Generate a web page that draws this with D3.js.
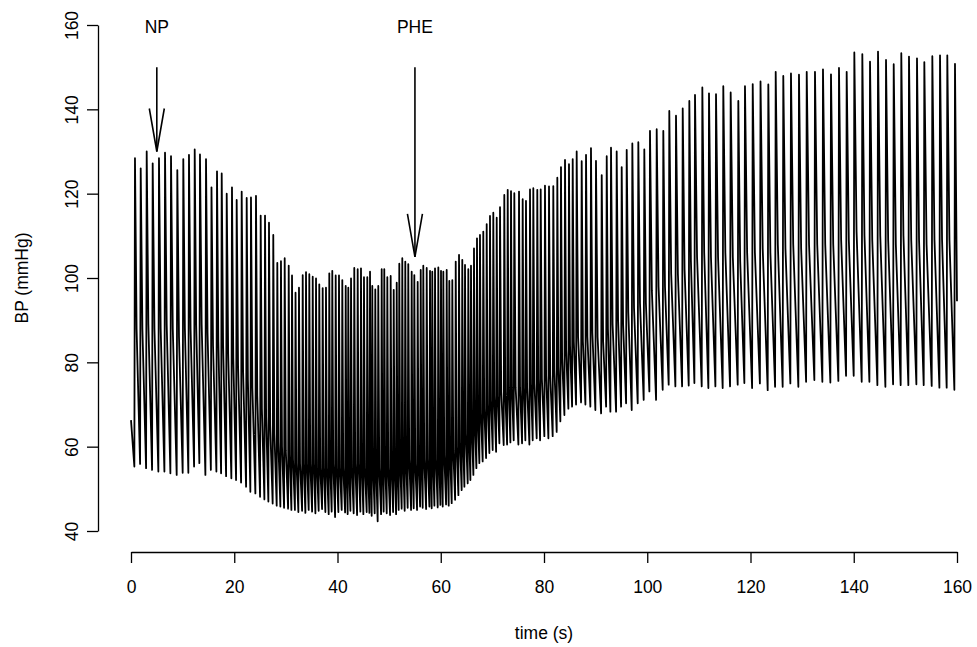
<!DOCTYPE html>
<html lang="en">
<head>
<meta charset="UTF-8">
<title>BP trace</title>
<script src="https://d3js.org/d3.v7.min.js"></script>
<style>
  body { margin: 0; background: #fff; }
  svg text { font-family: "Liberation Sans", Arial, Helvetica, sans-serif; fill: #000; }
</style>
</head>
<body>
<svg width="977" height="647"></svg>
<script>
// beat by beat values
// time of each systolic peak (s)
var peakTime = [0.77, 1.88, 3.04, 4.20, 5.42, 6.59, 7.75, 8.97, 10.13, 11.23, 12.34, 13.36, 14.53, 15.59, 16.66, 17.57, 18.54, 19.56, 20.47, 21.44,
  22.41, 23.24, 24.21, 25.12, 25.96, 26.73, 27.56, 28.34, 29.05, 29.77, 30.55, 31.19, 31.87, 32.54, 33.26, 33.90, 34.54, 35.20, 35.84, 36.47,
  37.13, 37.77, 38.41, 38.99, 39.65, 40.29, 40.93, 41.59, 42.09, 42.62, 43.25, 43.91, 44.55, 45.13, 45.77, 46.30, 46.74, 47.32, 47.90, 48.56,
  49.06, 49.65, 50.30, 50.89, 51.47, 51.97, 52.55, 53.13, 53.71, 54.37, 54.88, 55.53, 56.12, 56.62, 57.28, 57.92, 58.36, 58.89, 59.53, 60.05,
  60.50, 61.15, 61.66, 62.24, 62.90, 63.54, 64.17, 64.70, 65.34, 65.86, 66.44, 67.02, 67.60, 68.24, 68.90, 69.54, 70.18, 70.84, 71.48, 72.31,
  72.97, 73.61, 74.25, 75.16, 75.87, 76.51, 77.29, 77.93, 78.70, 79.36, 80.19, 80.97, 81.80, 82.58, 83.29, 84.07, 84.84, 85.56, 86.33, 87.30,
  88.14, 89.10, 90.07, 91.18, 92.15, 92.98, 94.08, 95.05, 96.02, 97.11, 98.27, 99.43, 100.53, 101.83, 103.11, 104.27, 105.57, 106.87, 108.15, 109.25,
  110.67, 111.96, 113.32, 114.73, 116.16, 117.64, 118.93, 120.43, 121.94, 123.45, 124.88, 126.35, 127.84, 129.39, 130.89, 132.49, 134.04, 135.59, 137.14, 138.63,
  140.11, 141.66, 143.15, 144.70, 146.25, 147.74, 149.21, 150.70, 152.25, 153.67, 155.22, 156.71, 158.12, 159.61];

// systolic peak of each beat (mmHg)
var systolic = [128.4, 126.0, 130.0, 127.2, 128.4, 129.7, 128.9, 125.6, 128.2, 129.2, 130.5, 129.3, 128.2, 121.5, 125.3, 124.8, 120.0, 121.5, 118.5, 120.5,
  119.0, 119.1, 119.5, 114.8, 114.8, 113.1, 110.2, 103.6, 104.0, 104.7, 102.9, 100.6, 96.5, 97.7, 100.7, 101.4, 100.9, 100.3, 99.9, 98.5,
  97.6, 97.7, 101.1, 101.7, 100.6, 100.6, 99.5, 98.1, 97.7, 99.9, 102.4, 102.1, 102.3, 100.2, 100.2, 101.5, 98.1, 97.3, 98.1, 102.1,
  102.1, 100.2, 100.5, 97.2, 98.9, 103.4, 104.7, 103.9, 103.3, 101.5, 100.7, 99.1, 101.9, 102.9, 102.4, 101.7, 101.5, 102.3, 102.5, 101.7,
  101.5, 101.9, 99.3, 99.5, 103.9, 105.5, 104.3, 103.1, 102.1, 102.9, 107.0, 109.4, 110.2, 111.0, 112.8, 114.7, 115.5, 114.3, 116.8, 119.7,
  120.9, 120.6, 120.1, 120.5, 118.7, 118.3, 121.0, 121.3, 120.9, 121.0, 121.9, 121.7, 121.8, 123.8, 126.3, 128.0, 127.0, 128.2, 130.0, 127.7,
  129.2, 130.8, 127.8, 124.4, 128.9, 130.9, 130.0, 126.3, 130.4, 131.9, 132.2, 130.5, 134.9, 135.3, 134.9, 139.6, 138.5, 140.2, 142.0, 143.4,
  145.2, 143.8, 143.6, 145.5, 144.0, 142.0, 145.5, 146.0, 146.6, 145.9, 148.9, 147.9, 148.5, 148.2, 148.9, 148.9, 149.5, 148.3, 149.8, 148.9,
  153.5, 153.1, 151.3, 153.7, 151.7, 150.7, 153.3, 152.5, 152.1, 151.2, 152.6, 152.8, 152.8, 150.8];

// diastolic minimum just before each upstroke (mmHg)
var diastolic = [55.3, 55.9, 54.9, 54.5, 54.1, 54.1, 53.7, 53.3, 53.8, 53.8, 55.3, 56.1, 53.3, 54.5, 54.1, 53.7, 53.0, 52.5, 52.1, 51.5,
  50.5, 49.3, 48.9, 48.1, 47.5, 47.0, 46.5, 46.0, 45.8, 45.5, 45.3, 45.0, 45.0, 44.5, 44.8, 44.3, 45.0, 44.6, 44.2, 44.8,
  45.2, 44.5, 44.0, 44.6, 43.3, 44.5, 45.0, 44.4, 44.0, 44.8, 44.2, 43.8, 44.6, 44.0, 44.5, 44.3, 43.6, 44.2, 42.3, 44.0,
  44.6, 44.2, 43.8, 44.5, 44.0, 45.0, 45.3, 44.8, 45.5, 45.0, 45.4, 45.0, 45.8, 45.5, 45.2, 45.8, 45.4, 46.0, 45.6, 46.2,
  45.8, 46.3, 46.0, 46.6, 47.4, 48.5, 49.7, 50.5, 51.3, 52.1, 53.3, 54.9, 56.1, 56.5, 57.3, 58.5, 59.2, 58.8, 60.8, 60.4,
  60.5, 61.0, 61.5, 60.5, 60.8, 61.5, 60.5, 61.5, 62.0, 61.5, 62.5, 62.0, 62.5, 63.5, 66.0, 67.5, 69.0, 69.5, 70.0, 70.5,
  70.0, 69.5, 68.7, 67.9, 69.5, 68.3, 68.3, 69.5, 70.3, 68.7, 70.3, 71.1, 73.1, 71.1, 73.5, 74.7, 74.3, 74.3, 74.5, 75.1,
  74.3, 73.9, 74.3, 73.9, 74.3, 74.7, 75.1, 73.9, 75.0, 73.4, 74.2, 74.2, 75.0, 74.2, 75.4, 75.8, 75.4, 75.2, 75.6, 76.8,
  76.8, 75.4, 75.4, 74.6, 74.2, 74.8, 74.6, 74.6, 74.8, 74.6, 74.4, 74.0, 74.0, 73.5];

// level of the dicrotic notch on the falling limb (mmHg)
var notch = [88, 88, 89, 88, 88, 89, 88, 86, 88, 88, 89, 89, 87, 84, 85, 84, 82, 81, 79, 78,
  76, 74, 72, 69, 67, 65, 63, 61, 60, 59, 58, 57, 56, 56, 56, 56, 56, 56, 55, 55,
  55, 55, 56, 56, 55, 55, 55, 55, 55, 55, 56, 56, 56, 55, 55, 56, 55, 55, 55, 56,
  56, 55, 55, 55, 55, 56, 57, 57, 57, 56, 56, 56, 57, 57, 57, 57, 57, 57, 58, 58,
  58, 58, 58, 59, 60, 61, 62, 63, 63, 64, 66, 67, 68, 69, 70, 71, 72, 72, 73, 73,
  74, 74, 74, 74, 74, 74, 75, 75, 76, 76, 77, 77, 78, 79, 81, 83, 84, 85, 86, 85,
  86, 87, 86, 85, 88, 89, 90, 89, 92, 93, 94, 94, 97, 98, 98, 101, 101, 102, 104, 105,
  106, 105, 105, 106, 105, 104, 106, 106, 107, 106, 108, 107, 108, 107, 108, 108, 108, 108, 109, 109,
  111, 110, 109, 110, 109, 108, 110, 109, 109, 108, 109, 109, 109, 108];

var startBP = 66.3;   // value at t = 0
var endBP = 94.5;     // value at t = 160

var xTicks = [0, 20, 40, 60, 80, 100, 120, 140, 160];
var yTicks = [40, 60, 80, 100, 120, 140, 160];

// drug markers
var markLabel = ["NP", "PHE"];
var markTime = [5, 55];
var markFrom = [150, 150];
var markTo = [130, 105];

var svg = d3.select("svg");
var x = d3.scaleLinear().domain([0, 160]).range([131, 957]);
var y = d3.scaleLinear().domain([40, 160]).range([531, 25]);

// build the trace: trough -> peak -> notch -> next trough
var rise = 0.12; // upstroke duration (s)
var pts = [[0, startBP]];
for (var i = 0; i < peakTime.length; i++) {
    pts.push([peakTime[i] - rise, diastolic[i]]);
    pts.push([peakTime[i], systolic[i]]);
    if (i < peakTime.length - 1) {
        pts.push([peakTime[i] + 0.28 * (peakTime[i + 1] - peakTime[i]), notch[i]]);
    }
}
pts.push([160, endBP]);

var line = d3.line()
    .x(function(d) { return x(d[0]); })
    .y(function(d) { return y(d[1]); });

svg.append("path")
    .datum(pts)
    .attr("d", line)
    .attr("fill", "none")
    .attr("stroke", "#000")
    .attr("stroke-width", 1.8)
    .attr("stroke-linejoin", "round");

// axes, R style
var xAxis = svg.append("g")
    .attr("transform", "translate(0,552)")
    .call(d3.axisBottom(x).tickValues(xTicks).tickSize(11).tickSizeOuter(0));
xAxis.selectAll("text").attr("y", 35).attr("dy", "0.35em").style("font-size", "17.5px");

var yAxis = svg.append("g")
    .attr("transform", "translate(98,0)")
    .call(d3.axisLeft(y).tickValues(yTicks).tickSize(11).tickSizeOuter(0));
yAxis.selectAll("text")
    .attr("transform", "rotate(-90)")
    .attr("x", 0).attr("y", -26).attr("dy", "0.35em")
    .attr("text-anchor", "middle")
    .style("font-size", "17.5px");

svg.selectAll(".domain, .tick line").attr("stroke", "#000").attr("stroke-width", 1.3);

svg.append("text")
    .attr("x", 544).attr("y", 633).attr("dy", "0.35em")
    .attr("text-anchor", "middle")
    .style("font-size", "17.5px")
    .text("time (s)");

svg.append("text")
    .attr("transform", "translate(22,278) rotate(-90)")
    .attr("dy", "0.35em")
    .attr("text-anchor", "middle")
    .style("font-size", "17.5px")
    .text("BP (mmHg)");

// arrows with labels
markTime.forEach(function(t, k) {
    var xa = x(t), y0 = y(markFrom[k]), y1 = y(markTo[k]);
    svg.append("line").attr("x1", xa).attr("x2", xa).attr("y1", y0).attr("y2", y1)
        .attr("stroke", "#000").attr("stroke-width", 1.6);
    svg.append("path")
        .attr("d", "M" + (xa - 7.5) + "," + (y1 - 43) + "L" + xa + "," + y1 + "L" + (xa + 7.5) + "," + (y1 - 43))
        .attr("fill", "none").attr("stroke", "#000").attr("stroke-width", 1.6);
    svg.append("text")
        .attr("x", xa).attr("y", 27).attr("dy", "0.35em")
        .attr("text-anchor", "middle")
        .style("font-size", "17.5px")
        .text(markLabel[k]);
});
</script>
</body>
</html>
